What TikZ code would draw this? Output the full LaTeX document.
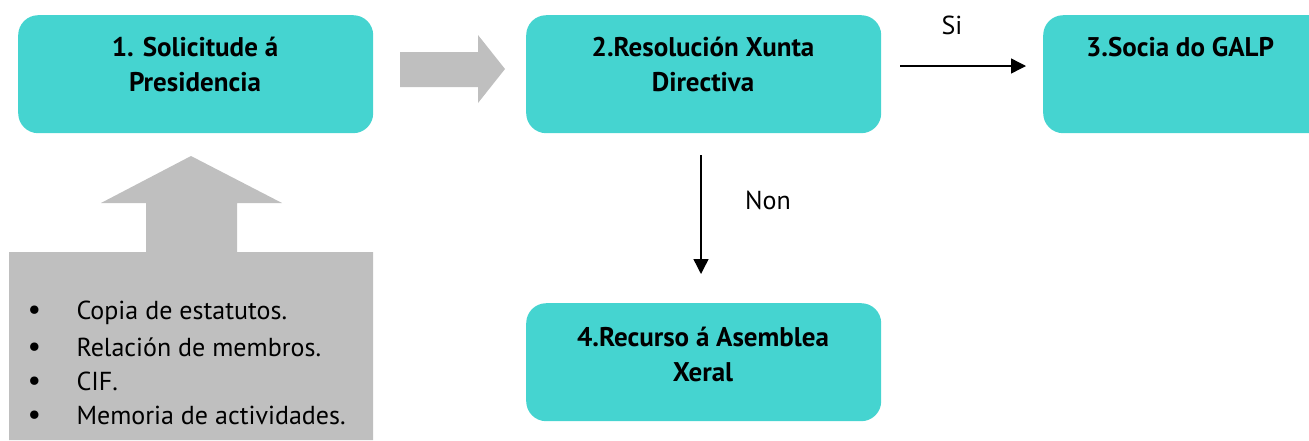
\documentclass[tikz,border=0pt]{standalone}
\usepackage{fontspec}
\setmainfont{PT Sans}
\usetikzlibrary{arrows.meta}
\definecolor{teal1}{HTML}{45D4D0}
\definecolor{gray1}{HTML}{BFBFBF}
\tikzset{
  stepbox/.style={fill=teal1, draw=none, rounded corners=20pt, minimum width=355pt, minimum height=118pt, anchor=north west},
  boxtext/.style={font=\bfseries\fontsize{27}{35}\selectfont, align=center},
  lbl/.style={font=\fontsize{26}{32}\selectfont},
  conn/.style={-{Triangle[length=15pt,width=15pt]}, line width=1.4pt},
  blk/.style={fill=gray1, draw=none}
}
\newcommand{\bul}{\makebox[49pt][l]{\fontsize{30}{32}\selectfont\textbullet}}
\begin{document}
\begin{tikzpicture}[x=1pt,y=-1pt]
\useasboundingbox (0,0) rectangle (1309,440);
\begin{scope}
\clip (0,0) rectangle (1309,440);
% boxes
\node[stepbox] (b1) at (18,15) {};
\node[stepbox] (b2) at (526,15) {};
\node[stepbox] (b3) at (1043,15) {};
\node[stepbox] (b4) at (526,303) {};
% texts
\node[boxtext] (t1) at (195,64) {1. Solicitude á\\Presidencia};
\node[boxtext] (t2) at (703,64) {2.Resolución Xunta\\Directiva};
\node[boxtext] (t3) at (1180,47) {3.Socia do GALP};
\node[boxtext] (t4) at (703,354) {4.Recurso á Asemblea\\Xeral};
% gray block right arrow
\path[blk] (400,52) -- (478,52) -- (478,35) -- (505,69) -- (478,103) -- (478,87) -- (400,87) -- cycle;
% gray up arrow + list block
\path[blk] (9,440) -- (9,252) -- (146,252) -- (146,203) -- (101,203) -- (191,156) -- (282,203) -- (237,203) -- (237,252) -- (373,252) -- (373,440) -- cycle;
\node[lbl, anchor=west] (l1) at (24,313) {\bul Copia de estatutos.};
\node[lbl, anchor=west] (l2) at (24,347) {\bul Relación de membros.};
\node[lbl, anchor=west] (l3) at (24,381) {\bul CIF.};
\node[lbl, anchor=west] (l4) at (24,415) {\bul Memoria de actividades.};
% connectors
\coordinate (s1) at (900,66);
\coordinate (s2) at (1026,66);
\draw[conn] (s1) -- (s2);
\node[lbl] (si) at (952,25) {Si};
\coordinate (n1) at (701,155);
\coordinate (n2) at (701,274);
\draw[conn] (n1) -- (n2);
\node[lbl] (non) at (768,200) {Non};
\end{scope}
\end{tikzpicture}
\end{document}
